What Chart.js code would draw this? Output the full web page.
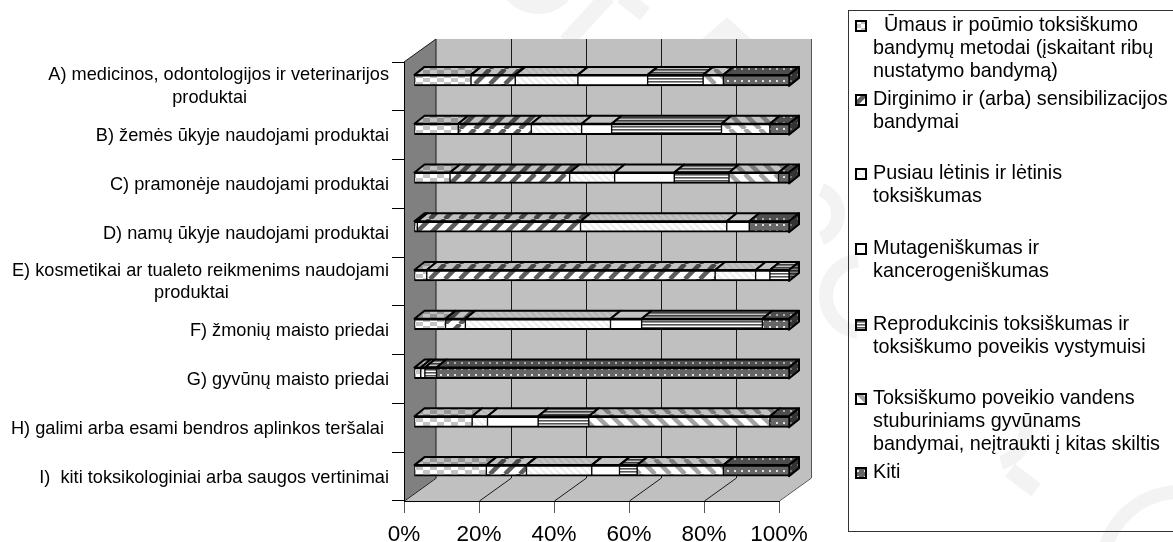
<!DOCTYPE html>
<html>
<head>
<meta charset="utf-8">
<title>Toksiškumo bandymai</title>
<style>
  html, body { margin: 0; padding: 0; background: #fff; }
  canvas { display: block; }
</style>
<script src="https://cdn.jsdelivr.net/npm/chart.js@4/dist/chart.umd.min.js"></script>
</head>
<body>
<canvas id="chart" width="1173" height="542"></canvas>
<script>
/* Data */
var categories = [
  ['A) medicinos, odontologijos ir veterinarijos', 'produktai'],
  'B) žemės ūkyje naudojami produktai',
  'C) pramonėje naudojami produktai',
  'D) namų ūkyje naudojami produktai',
  ['E) kosmetikai ar tualeto reikmenims naudojami', 'produktai'],
  'F) žmonių maisto priedai',
  'G) gyvūnų maisto priedai',
  'H) galimi arba esami bendros aplinkos teršalai ',
  'I)  kiti toksikologiniai arba saugos vertinimai'
];
var tickLabels = ['0%', '20%', '40%', '60%', '80%', '100%'];

var umaus      = [15.2, 11.8,  9.6,  0.9,  3.4,  8.4,  1.8, 15.5, 19.3];
var dirginimo  = [11.8, 19.5, 31.9, 43.5, 76.9,  5.3,  0,    0,   10.7];
var letinis    = [16.7, 13.4, 12.0, 39.0, 10.8, 38.7,  1.1,  4.1, 17.4];
var mutagen    = [18.6,  8.0, 15.9,  6.0,  3.8,  8.3,  0,   13.5,  7.4];
var reprodukc  = [14.8, 29.3, 14.6,  0,    5.1, 32.2,  3.1, 13.5,  4.7];
var vandens    = [ 5.4, 12.9, 13.2,  0,    0,    0,    0,   48.3, 23.0];
var kiti       = [17.5,  5.1,  2.8, 10.6,  0,    7.1, 94.0,  5.1, 17.5];

var seriesLabels = [
  ['  Ūmaus ir poūmio toksiškumo', 'bandymų metodai (įskaitant ribų', 'nustatymo bandymą)'],
  ['Dirginimo ir (arba) sensibilizacijos', 'bandymai'],
  ['Pusiau lėtinis ir lėtinis', 'toksiškumas'],
  ['Mutageniškumas ir', 'kancerogeniškumas'],
  ['Reprodukcinis toksiškumas ir', 'toksiškumo poveikis vystymuisi'],
  ['Toksiškumo poveikio vandens', 'stuburiniams gyvūnams', 'bandymai, neįtraukti į kitas skiltis'],
  ['Kiti']
];

/* Layout of the fake 3D box */
var DEPTH_X = 32, DEPTH_Y = -23;   // back wall offset
var BAR_X = 10, BAR_Y = -6;        // where the bars stand in the box
var CAP_X = 10, CAP_Y = -8;        // depth of one bar
var FONT = '"Liberation Sans", Arial, sans-serif';

function tile(w, h, paint) {
  var c = document.createElement('canvas');
  c.width = w; c.height = h;
  paint(c.getContext('2d'), w, h);
  return document.createElement('canvas').getContext('2d').createPattern(c, 'repeat');
}

function diagonal(bg, fg, lw, p, back) {
  return tile(p, p, function (g) {
    g.fillStyle = bg; g.fillRect(0, 0, p, p);
    g.strokeStyle = fg; g.lineWidth = lw;
    [-p, 0, p].forEach(function (o) {
      g.beginPath();
      if (back) { g.moveTo(o, 0); g.lineTo(o + p, p); }
      else { g.moveTo(o, p); g.lineTo(o + p, 0); }
      g.stroke();
    });
  });
}

var fills = [
  tile(14, 8, function (g) {
    g.fillStyle = '#fff'; g.fillRect(0, 0, 14, 8);
    g.fillStyle = '#c4c4c4'; g.fillRect(0, 0, 7, 4); g.fillRect(7, 4, 7, 4);
  }),
  diagonal('#fff', '#5c5c5c', 4.5, 15, false),
  diagonal('#fff', '#ececec', 2, 7, true),
  '#ffffff',
  tile(4, 3, function (g) {
    g.fillStyle = '#fff'; g.fillRect(0, 0, 4, 3);
    g.fillStyle = '#555'; g.fillRect(0, 0, 4, 1);
    g.fillStyle = '#999'; g.fillRect(0, 1, 4, 1);
  }),
  diagonal('#fff', '#a4a4a4', 4.5, 15, true),
  tile(7, 6, function (g) {
    g.fillStyle = '#666'; g.fillRect(0, 0, 7, 6);
    g.fillStyle = '#e2e2e2'; g.fillRect(3, 2, 2, 2);
  })
];

// pale watermark strokes behind the chart
function drawWatermark(ctx) {
  ctx.save();
  ctx.strokeStyle = '#f3f3f3';
  ctx.lineCap = 'butt';
  ctx.lineWidth = 16;
  [[[608, -4], [566, 42]], [[622, -4], [645, 14]], [[690, 60], [727, 28], [762, 60]], [[1010, 470], [1036, 490]]].forEach(function (seg) {
    ctx.beginPath();
    seg.forEach(function (p, i) { if (i) ctx.lineTo(p[0], p[1]); else ctx.moveTo(p[0], p[1]); });
    ctx.stroke();
  });
  ctx.lineWidth = 14;
  [[538, -28, 35, 0.1, 3.04], [812, 214, 26, -1.2, 1.2], [862, 296, 36, 1.7, 4.6], [1180, 570, 78, 3.2, 4.8], [992, 430, 34, -0.4, 1.3]].forEach(function (a) {
    ctx.beginPath();
    ctx.arc(a[0], a[1], a[2], a[3], a[4]);
    ctx.stroke();
  });
  ctx.restore();
}

var box3d = {
  id: 'box3d',
  beforeDraw: function (chart) {
    var ctx = chart.ctx, x = chart.scales.x, a = chart.chartArea;
    var L = x.getPixelForValue(0), R = x.getPixelForValue(100);
    drawWatermark(ctx);
    ctx.save();
    // back wall and floor
    ctx.fillStyle = '#c0c0c0';
    ctx.fillRect(L + DEPTH_X, a.top + DEPTH_Y, R - L, a.bottom - a.top);
    ctx.beginPath();
    ctx.moveTo(L, a.bottom); ctx.lineTo(L + DEPTH_X, a.bottom + DEPTH_Y);
    ctx.lineTo(R + DEPTH_X, a.bottom + DEPTH_Y); ctx.lineTo(R, a.bottom);
    ctx.closePath(); ctx.fill();
    // left wall
    ctx.fillStyle = '#808080';
    ctx.beginPath();
    ctx.moveTo(L, a.top); ctx.lineTo(L + DEPTH_X, a.top + DEPTH_Y);
    ctx.lineTo(L + DEPTH_X, a.bottom + DEPTH_Y); ctx.lineTo(L, a.bottom);
    ctx.closePath(); ctx.fill();
    // gridlines, up the wall and down the floor
    ctx.strokeStyle = '#1a1a1a'; ctx.lineWidth = 1;
    [0, 20, 40, 60, 80, 100].forEach(function (v) {
      var px = Math.round(x.getPixelForValue(v)) + 0.5;
      ctx.beginPath();
      ctx.moveTo(px, a.bottom);
      ctx.lineTo(px + DEPTH_X, a.bottom + DEPTH_Y);
      if (v > 0) ctx.lineTo(px + DEPTH_X, a.top + DEPTH_Y);
      ctx.strokeStyle = v === 100 ? '#555' : '#1a1a1a';
      ctx.stroke();
    });
    ctx.strokeStyle = '#1a1a1a';
    ctx.beginPath();
    ctx.moveTo(L, a.top); ctx.lineTo(L + DEPTH_X, a.top + DEPTH_Y);
    ctx.lineTo(L + DEPTH_X, a.bottom + DEPTH_Y);
    ctx.stroke();
    ctx.restore();
  },
  beforeDatasetsDraw: function (chart) {
    var ctx = chart.ctx;
    ctx.save();
    ctx.translate(BAR_X, BAR_Y);
    var ends = {};
    chart.data.datasets.forEach(function (ds, i) {
      chart.getDatasetMeta(i).data.forEach(function (bar, j) {
        var w = bar.x - bar.base;
        if (w <= 0) return;
        var top = bar.y - bar.height / 2;
        face(ctx, [[bar.base, top], [bar.base + CAP_X, top + CAP_Y], [bar.x + CAP_X, top + CAP_Y], [bar.x, top]], fills[i], 'rgba(0,0,0,.24)');
        ends[j] = { bar: bar, i: i };
      });
    });
    Object.keys(ends).forEach(function (j) {
      var b = ends[j].bar, top = b.y - b.height / 2, bot = b.y + b.height / 2;
      face(ctx, [[b.x, top], [b.x + CAP_X, top + CAP_Y], [b.x + CAP_X, bot + CAP_Y], [b.x, bot]], fills[ends[j].i], 'rgba(0,0,0,.5)');
    });
  },
  afterDatasetsDraw: function (chart) {
    chart.ctx.restore();
  },
  afterDraw: function (chart) {
    drawCategoryLabels(chart);
    drawLegend(chart);
  }
};

function face(ctx, pts, fill, shade) {
  ctx.beginPath();
  pts.forEach(function (p, i) { if (i) ctx.lineTo(p[0], p[1]); else ctx.moveTo(p[0], p[1]); });
  ctx.closePath();
  ctx.fillStyle = fill; ctx.fill();
  ctx.fillStyle = shade; ctx.fill();
  ctx.strokeStyle = '#000'; ctx.lineWidth = 2; ctx.lineJoin = 'round'; ctx.stroke();
}

function drawCategoryLabels(chart) {
  var ctx = chart.ctx, y = chart.scales.y;
  ctx.save();
  ctx.font = '18.2px ' + FONT;
  ctx.fillStyle = '#000';
  ctx.textBaseline = 'middle';
  categories.forEach(function (label, i) {
    var c = y.getPixelForValue(i);
    if (Array.isArray(label)) {
      var wide = ctx.measureText(label[0]).width;
      ctx.textAlign = 'right';
      ctx.fillText(label[0], 389, c - 11);
      ctx.textAlign = 'center';
      ctx.fillText(label[1], 389 - wide / 2 - 9, c + 11.5);
    } else {
      ctx.textAlign = 'right';
      ctx.fillText(label, 389, c + 1);
    }
  });
  ctx.restore();
}

function drawLegend(chart) {
  var ctx = chart.ctx;
  var firstLine = [26, 100, 174, 249, 325, 399, 473];
  ctx.save();
  ctx.strokeStyle = '#333'; ctx.lineWidth = 1;
  ctx.strokeRect(848.5, 10.5, 340, 521);
  ctx.font = '19.8px ' + FONT;
  ctx.textBaseline = 'middle';
  ctx.textAlign = 'left';
  chart.data.datasets.forEach(function (ds, i) {
    var y0 = firstLine[i];
    ctx.fillStyle = fills[i];
    ctx.fillRect(856, y0 - 5, 10, 10);
    ctx.strokeStyle = '#000'; ctx.lineWidth = 2;
    ctx.strokeRect(856, y0 - 5, 10, 10);
    ctx.fillStyle = '#000';
    seriesLabels[i].forEach(function (line, k) {
      ctx.fillText(line, 873, y0 + k * 22.6);
    });
  });
  ctx.restore();
}

var seriesData = [umaus, dirginimo, letinis, mutagen, reprodukc, vandens, kiti];

new Chart(document.getElementById('chart'), {
  type: 'bar',
  plugins: [box3d],
  data: {
    labels: categories,
    datasets: seriesData.map(function (values, i) {
      return {
        label: seriesLabels[i].join(' ').trim(),
        data: values,
        backgroundColor: fills[i],
        borderColor: '#000',
        borderWidth: { left: 1, right: 1, top: 2, bottom: 2 },
        borderSkipped: false,
        barThickness: 11,
        clip: false
      };
    })
  },
  options: {
    indexAxis: 'y',
    responsive: false,
    animation: false,
    devicePixelRatio: 1,
    layout: { padding: { top: 62, right: 394, left: 0, bottom: 0 } },
    plugins: { legend: { display: false }, title: { display: false }, tooltip: { enabled: false } },
    scales: {
      x: {
        stacked: true,
        min: 0,
        max: 100,
        afterFit: function (s) { s.height = 41; },
        afterBuildTicks: function (s) {
          s.ticks = tickLabels.map(function (t) { return { value: parseInt(t, 10) }; });
        },
        ticks: {
          autoSkip: false,
          maxRotation: 0,
          font: { family: FONT, size: 22.5 },
          color: '#000',
          padding: 8,
          callback: function (v) { return v + '%'; }
        },
        grid: { drawOnChartArea: false, color: '#555', tickLength: 12 },
        border: { display: true, color: '#000' }
      },
      y: {
        stacked: true,
        afterFit: function (s) { s.width = 404; },
        ticks: { display: false },
        grid: { drawOnChartArea: false, color: '#000', tickLength: 12 },
        border: { display: true, color: '#000' }
      }
    }
  }
});
</script>
</body>
</html>
